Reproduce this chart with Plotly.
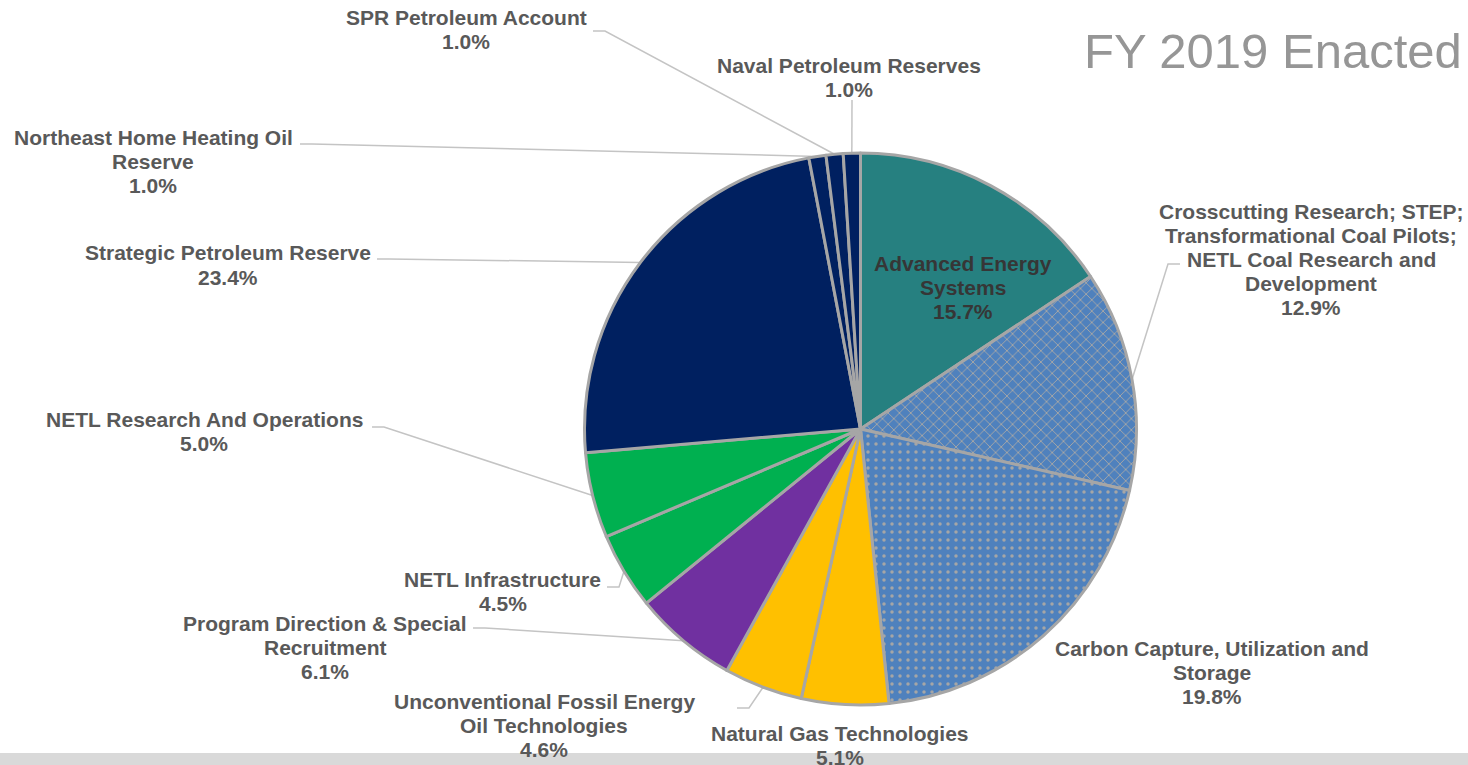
import math
import plotly.graph_objects as go

W, H = 1468, 765

# ---------------- data ----------------
categories = [
    "Advanced Energy Systems",
    "Crosscutting Research; STEP; Transformational Coal Pilots; NETL Coal Research and Development",
    "Carbon Capture, Utilization and Storage",
    "Natural Gas Technologies",
    "Unconventional Fossil Energy Oil Technologies",
    "Program Direction & Special Recruitment",
    "NETL Infrastructure",
    "NETL Research And Operations",
    "Strategic Petroleum Reserve",
    "Northeast Home Heating Oil Reserve",
    "SPR Petroleum Account",
    "Naval Petroleum Reserves",
]
shares = [15.7, 12.9, 19.8, 5.1, 4.6, 6.1, 4.5, 5.0, 23.4, 1.0, 1.0, 1.0]
label_lines = [
    ["Advanced Energy", "Systems"],
    ["Crosscutting Research; STEP;", "Transformational Coal Pilots;", "NETL Coal Research and", "Development"],
    ["Carbon Capture, Utilization and", "Storage"],
    ["Natural Gas Technologies"],
    ["Unconventional Fossil Energy", "Oil Technologies"],
    ["Program Direction & Special", "Recruitment"],
    ["NETL Infrastructure"],
    ["NETL Research And Operations"],
    ["Strategic Petroleum Reserve"],
    ["Northeast Home Heating Oil", "Reserve"],
    ["SPR Petroleum Account"],
    ["Naval Petroleum Reserves"],
]
title_text = "FY 2019 Enacted"

# ---------------- styles ----------------
colors = ["#268080", "#4F81BD", "#4F81BD", "#FFC000", "#FFC000", "#7030A0",
          "#00B050", "#00B050", "#002060", "#002060", "#002060", "#002060"]
patterns = ["", "x", ".", "", "", "", "", "", "", "", "", ""]
solid = [0.2, 0.22, 0.15, 0.2, 0.2, 0.2, 0.2, 0.2, 0.2, 0.2, 0.2, 0.2]

# pie geometry (pixels)
cx, cy, R = 860.5, 429.0, 276.0

# label layout: center x, first-line center y (pixels)
label_pos = [
    (963, 263), (1311, 211), (1212, 648), (840, 733), (544, 701), (325, 623),
    (503, 579), (204, 419), (228, 253), (153, 137), (466, 17), (849, 65),
]
line_pitch = 24.0
# leader line label-side points (pixels)
leaders = {
    1: [(1180, 264), (1168, 264)],
    4: [(737, 708), (749, 708)],
    5: [(473, 628), (485, 628)],
    6: [(607, 587), (619, 587)],
    7: [(372, 427), (384, 427)],
    8: [(377, 259), (389, 259)],
    9: [(300, 144), (312, 144)],
    10: [(593, 31), (605, 31)],
    11: [(852, 100)],
}

FONT = "Liberation Sans, Arial, sans-serif"


def px(x):
    return x / W


def py(y):
    return 1 - y / H


fig = go.Figure()
fig.add_trace(go.Pie(
    labels=categories,
    values=shares,
    sort=False,
    direction="clockwise",
    rotation=0,
    textinfo="none",
    hoverinfo="label+percent",
    showlegend=False,
    marker=dict(
        colors=colors,
        line=dict(color="#A6A6A6", width=3),
        pattern=dict(shape=patterns, bgcolor=colors, fgcolor="#A6A6A6",
                     size=8, solidity=solid, fillmode="replace"),
    ),
    domain=dict(x=[px(cx - R), px(cx + R)], y=[py(cy + R), py(cy - R)]),
))

annotations = []
total = sum(shares)
cum = 0.0
shapes = []
for i, (lines, v) in enumerate(zip(label_lines, shares)):
    all_lines = lines + [f"{v:.1f}%"]
    x0, y0 = label_pos[i]
    color = "#363636" if i == 0 else "#595959"
    for k, t in enumerate(all_lines):
        annotations.append(dict(
            x=px(x0), y=py(y0 + k * line_pitch), xref="paper", yref="paper",
            text=t, showarrow=False, xanchor="center", yanchor="middle",
            font=dict(family=FONT, size=21, color=color, weight="bold"),
        ))
    theta = 2 * math.pi * (cum + v / 2) / total
    ex = cx + R * math.sin(theta)
    ey = cy - R * math.cos(theta)
    if i in leaders:
        pts = leaders[i] + [(ex, ey)]
        path = "M " + " L ".join(f"{px(a):.5f},{py(b):.5f}" for a, b in pts)
        shapes.append(dict(type="path", path=path, xref="paper", yref="paper",
                           line=dict(color="#C4C4C4", width=1.5), layer="below"))
    cum += v

annotations.append(dict(
    x=px(1464), y=py(51), xref="paper", yref="paper", text=title_text,
    showarrow=False, xanchor="right", yanchor="middle",
    font=dict(family=FONT, size=49, color="#969696"),
))

shapes.append(dict(type="rect", xref="paper", yref="paper", x0=0, x1=1,
                   y0=0, y1=py(753), fillcolor="#D9D9D9", line=dict(width=0),
                   layer="below"))

fig.update_layout(
    width=W, height=H,
    margin=dict(l=0, r=0, t=0, b=0),
    paper_bgcolor="white", plot_bgcolor="white",
    annotations=annotations, shapes=shapes,
)

fig.write_html(
    "out.html",
    config={"displayModeBar": False},
    post_script="document.body.style.margin='0';document.body.style.overflow='hidden';",
)
